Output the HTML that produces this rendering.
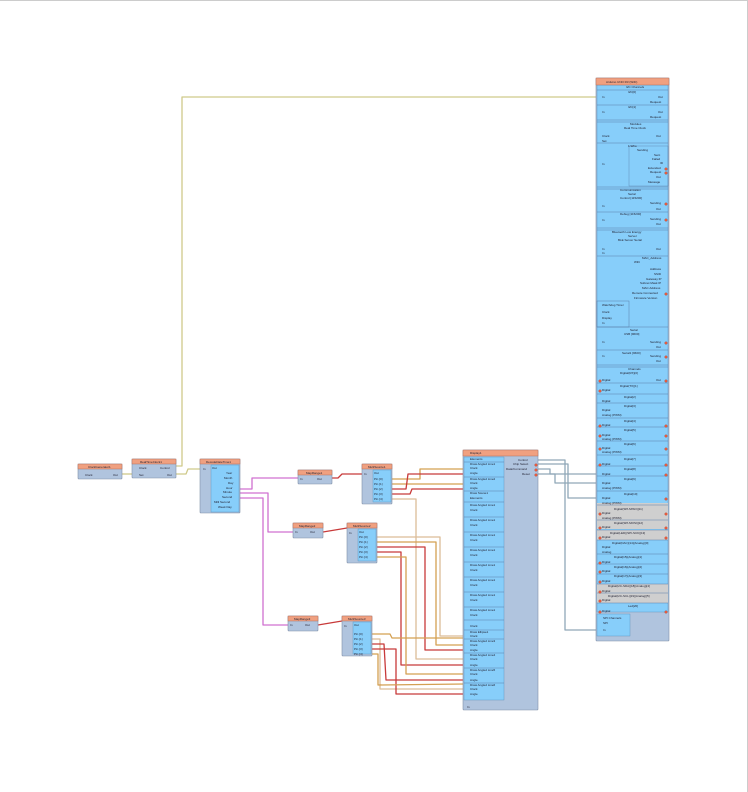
<!DOCTYPE html>
<html><head><meta charset="utf-8"><style>
html,body{margin:0;padding:0;background:#fff;width:748px;height:792px;overflow:hidden}
svg{display:block}
text{font-family:"Liberation Sans",sans-serif;font-size:3px;fill:#223}
.h{fill:#f0a080;stroke:#b07060;stroke-width:.5}
.b{fill:#b0c4de;stroke:#8090a8;stroke-width:.6}
.lb{fill:#87cefa;stroke:#5a8fb8;stroke-width:.4}
.w{fill:none;stroke-width:1.3;stroke-linejoin:round}
.y{stroke:#cfc98a}.m{stroke:#d070d0}.r{stroke:#c83a3a}.t{stroke:#d4a052}.lt{stroke:#dcbc98}.g{stroke:#90a8b8}
.d{stroke:#5a7fa8;stroke-width:.5}
.p{fill:#ddd;stroke:#666;stroke-width:.3}
.rp{fill:#f06040;stroke:#a03020;stroke-width:.3}
</style></head><body>
<svg width="748" height="792" viewBox="0 0 748 792">
<rect x="0" y="0" width="748" height="792" fill="#fff"/>
<line x1="0" y1="0.5" x2="748" y2="0.5" stroke="#ccc"/>
<line x1="747.5" y1="0" x2="747.5" y2="792" stroke="#ccc"/>

<!-- wires -->
<polyline class="w y" points="122,474 132,474"/>
<polyline class="w y" points="176,466 182,466 182,97 597,97"/>
<polyline class="w y" points="176,474 186,474 188,469 200,469"/>
<polyline class="w m" points="240,489 252,489 252,478 298,478"/>
<polyline class="w m" points="240,493 268,493 268,532 293,532"/>
<polyline class="w m" points="240,498 263,498 263,625 288,625"/>
<polyline class="w r" points="332,478 338,478 342,474 362,474"/>
<polyline class="w r" points="323,532 347,528"/>
<polyline class="w r" points="318,625 342,621"/>

<polyline class="w t" points="392,479 420,479 420,469 464,469"/>
<polyline class="w t" points="392,484 425,484 425,484 464,484"/>
<polyline class="w r" points="392,489 406,489 408,474 464,474"/>
<polyline class="w r" points="392,494 410,494 412,489 464,489"/>
<polyline class="w lt" points="392,499 416,499 416,659 464,659"/>

<polyline class="w lt" points="377,537 440,537 440,636 464,636"/>
<polyline class="w t" points="377,542 436,542 436,645 464,645"/>
<polyline class="w r" points="377,547 425,547 425,650 464,650"/>
<polyline class="w r" points="377,552 401,552 401,665 464,665"/>
<polyline class="w t" points="377,557 406,557 406,674 464,674"/>

<polyline class="w t" points="372,634 390,634 392,638 464,638"/>
<polyline class="w lt" points="372,639 380,639 380,689 464,689"/>
<polyline class="w r" points="372,644 384,644 386,680 464,680"/>
<polyline class="w r" points="372,649 396,649 396,694 464,694"/>
<polyline class="w t" points="372,654 378,654 378,685 464,684"/>

<polyline class="w g" points="538,460 565,460 565,630 597,630"/>
<polyline class="w g" points="538,464 568,464 568,498 597,498"/>
<polyline class="w g" points="538,469 550,469 550,474 597,474"/>
<polyline class="w g" points="538,474 555,474 555,483 597,483"/>

<!-- ClockGenerator1 -->
<rect class="b" x="78" y="464" width="44" height="15" rx="1"/>
<rect class="h" x="78" y="464" width="44" height="5"/>
<text x="88" y="468">ClockGenerator1</text>
<text x="85" y="476">Clock</text><text x="113" y="476">Out</text>
<!-- RealTimeClock1 -->
<rect class="b" x="132" y="459" width="44" height="19" rx="1"/>
<rect class="h" x="132" y="459" width="44" height="5"/>
<text x="140" y="463">RealTimeClock1</text>
<text x="139" y="469">Clock</text><text x="139" y="476">Set</text>
<text x="160" y="469">Control</text><text x="167" y="476">Out</text>
<!-- Decode -->
<rect class="b" x="200" y="459" width="40" height="54" rx="1"/>
<rect class="h" x="200" y="459" width="40" height="5"/>
<text x="206" y="463">DecodeDateTime1</text>
<rect class="lb" x="211" y="465" width="28" height="47"/>
<text x="203" y="470">In</text><text x="212" y="469">Out</text>
<text x="226" y="474">Year</text><text x="224" y="479">Month</text><text x="228" y="484">Day</text>
<text x="226" y="489">Hour</text><text x="223" y="493">Minute</text><text x="222" y="498">Second</text>
<text x="214" y="503">Milli Second</text><text x="218" y="508">Week Day</text>
<!-- MapRanges -->
<rect class="b" x="298" y="470" width="34" height="14" rx="1"/><rect class="h" x="298" y="470" width="34" height="5"/>
<text x="306" y="474">MapRange1</text><text x="300" y="480">In</text><text x="317" y="480">Out</text>
<rect class="b" x="293" y="523" width="30" height="15" rx="1"/><rect class="h" x="293" y="523" width="30" height="5"/>
<text x="299" y="527">MapRange2</text><text x="295" y="533">In</text><text x="310" y="533">Out</text>
<rect class="b" x="288" y="616" width="30" height="15" rx="1"/><rect class="h" x="288" y="616" width="30" height="5"/>
<text x="294" y="620">MapRange3</text><text x="290" y="626">In</text><text x="305" y="626">Out</text>
<!-- MultiSources -->
<g>
<rect class="b" x="362" y="464" width="30" height="40" rx="1"/><rect class="h" x="362" y="464" width="30" height="5"/>
<text x="368" y="468">MultiSource1</text><rect class="lb" x="373" y="470" width="18" height="32"/>
<text x="364" y="475">In</text><text x="374" y="474">Out</text>
<text x="374" y="480">Pin [0]</text><text x="374" y="485">Pin [1]</text><text x="374" y="490">Pin [2]</text><text x="374" y="495">Pin [3]</text><text x="374" y="500">Pin [4]</text>
</g>
<g>
<rect class="b" x="347" y="523" width="30" height="40" rx="1"/><rect class="h" x="347" y="523" width="30" height="5"/>
<text x="353" y="527">MultiSource2</text><rect class="lb" x="358" y="529" width="18" height="32"/>
<text x="349" y="534">In</text><text x="359" y="533">Out</text>
<text x="359" y="538">Pin [0]</text><text x="359" y="543">Pin [1]</text><text x="359" y="548">Pin [2]</text><text x="359" y="553">Pin [3]</text><text x="359" y="558">Pin [4]</text>
</g>
<g>
<rect class="b" x="342" y="616" width="30" height="40" rx="1"/><rect class="h" x="342" y="616" width="30" height="5"/>
<text x="348" y="620">MultiSource3</text><rect class="lb" x="353" y="622" width="18" height="32"/>
<text x="344" y="627">In</text><text x="354" y="626">Out</text>
<text x="354" y="635">Pin [0]</text><text x="354" y="640">Pin [1]</text><text x="354" y="645">Pin [2]</text><text x="354" y="650">Pin [3]</text><text x="354" y="655">Pin [4]</text>
</g>

<!-- Display -->
<rect class="b" x="463" y="450" width="75" height="260" rx="1"/>
<rect class="h" x="463" y="450" width="75" height="6"/>
<text x="470" y="454">Display1</text>
<rect class="lb" x="464" y="457" width="40" height="243"/>
<text x="518" y="461">Control</text><text x="513" y="465">Chip Select</text><text x="506" y="470">Data/Command</text><text x="522" y="475">Reset</text>
<text x="470" y="460">Elements</text><text x="470" y="469">Clock</text><text x="470" y="474">Angle</text>
<line class="d" x1="464" y1="462" x2="504" y2="462"/>
<text x="470" y="465">Draw Angled Line1</text>
<line class="d" x1="464" y1="477" x2="504" y2="477"/>
<text x="470" y="480">Draw Angled Line2</text><text x="470" y="484">Clock</text><text x="470" y="489">Angle</text>
<line class="d" x1="464" y1="491" x2="504" y2="491"/>
<text x="470" y="494">Draw Scene1</text><text x="470" y="499">Elements</text>
<g id="dl">
<line class="d" x1="464" y1="502" x2="504" y2="502"/><text x="470" y="506">Draw Angled Line1</text><text x="470" y="511">Clock</text>
</g>
<use href="#dl" y="15"/><use href="#dl" y="30"/><use href="#dl" y="45"/><use href="#dl" y="60"/><use href="#dl" y="75"/><use href="#dl" y="90"/><use href="#dl" y="105"/>
<line class="d" x1="464" y1="620" x2="504" y2="620"/><text x="470" y="627">Clock</text>
<line class="d" x1="464" y1="630" x2="504" y2="630"/>
<text x="470" y="633">Draw Ellipse1</text><text x="470" y="637">Clock</text>
<line class="d" x1="464" y1="639" x2="504" y2="639"/>
<text x="470" y="642">Draw Angled Line3</text><text x="470" y="646">Clock</text><text x="470" y="651">Angle</text>
<line class="d" x1="464" y1="653" x2="504" y2="653"/>
<text x="470" y="656">Draw Angled Line4</text><text x="470" y="660">Clock</text><text x="470" y="666">Angle</text>
<line class="d" x1="464" y1="668" x2="504" y2="668"/>
<text x="470" y="671">Draw Angled Line5</text><text x="470" y="675">Clock</text><text x="470" y="681">Angle</text>
<line class="d" x1="464" y1="683" x2="504" y2="683"/>
<text x="470" y="686">Draw Angled Line6</text><text x="470" y="690">Clock</text><text x="470" y="695">Angle</text>
<text x="467" y="708">In</text>

<!-- Arduino -->
<rect class="b" x="596" y="78" width="73" height="563" rx="1"/>
<rect class="lb" x="597" y="85" width="71" height="527"/>
<rect class="h" x="596" y="78" width="73" height="7"/>
<text x="606" y="83">Arduino UNO R3 (WiFi)</text>
<g fill="#cfcfcf">
<rect x="597" y="503" width="71" height="26"/><rect x="597" y="530" width="71" height="10"/>
<rect x="597" y="584" width="71" height="19"/>
</g>
<g class="d" stroke="#5a7fa8">
<line x1="597" y1="90" x2="668" y2="90"/><line x1="597" y1="105" x2="668" y2="105"/><line x1="597" y1="120" x2="668" y2="120"/>
<line x1="597" y1="122" x2="668" y2="122"/><line x1="597" y1="143" x2="668" y2="143"/><line x1="597" y1="187" x2="668" y2="187"/>
<line x1="597" y1="189" x2="668" y2="189"/><line x1="597" y1="212" x2="668" y2="212"/><line x1="597" y1="228" x2="668" y2="228"/>
<line x1="597" y1="230" x2="668" y2="230"/><line x1="597" y1="256" x2="668" y2="256"/><line x1="597" y1="327" x2="668" y2="327"/>
<line x1="597" y1="350" x2="668" y2="350"/><line x1="597" y1="365" x2="668" y2="365"/><line x1="597" y1="367" x2="668" y2="367"/>
<line x1="597" y1="383" x2="668" y2="383"/><line x1="597" y1="394" x2="668" y2="394"/><line x1="597" y1="403" x2="668" y2="403"/>
<line x1="597" y1="418" x2="668" y2="418"/><line x1="597" y1="427" x2="668" y2="427"/><line x1="597" y1="441" x2="668" y2="441"/>
<line x1="597" y1="455" x2="668" y2="455"/><line x1="597" y1="466" x2="668" y2="466"/><line x1="597" y1="476" x2="668" y2="476"/>
<line x1="597" y1="491" x2="668" y2="491"/><line x1="597" y1="505" x2="668" y2="505"/><line x1="597" y1="520" x2="668" y2="520"/>
<line x1="597" y1="530" x2="668" y2="530"/><line x1="597" y1="540" x2="668" y2="540"/><line x1="597" y1="554" x2="668" y2="554"/>
<line x1="597" y1="564" x2="668" y2="564"/><line x1="597" y1="574" x2="668" y2="574"/><line x1="597" y1="584" x2="668" y2="584"/>
<line x1="597" y1="593" x2="668" y2="593"/><line x1="597" y1="603" x2="668" y2="603"/>
</g>
<rect x="597" y="301" width="32" height="26" fill="none" stroke="#5a7fa8" stroke-width=".5"/>
<rect x="629" y="146" width="39" height="40" fill="none" stroke="#5a7fa8" stroke-width=".4"/>
<rect x="597" y="614" width="33" height="22" class="lb"/>
<text x="626" y="88">I2C Channels</text><text x="628" y="93">I2C[0]</text><text x="602" y="98">In</text><text x="658" y="98">Out</text><text x="650" y="103">Request</text>
<text x="628" y="108">I2C[1]</text><text x="602" y="113">In</text><text x="658" y="113">Out</text><text x="650" y="118">Request</text>
<text x="630" y="125">Modules</text><text x="624" y="129">Real Time Clock</text><text x="602" y="137">Clock</text><text x="602" y="142">Set</text><text x="656" y="137">Out</text>
<text x="628" y="147">1-Wire</text><text x="637" y="151">Sending</text><text x="602" y="165">In</text>
<text x="654" y="156">Sent</text><text x="652" y="160">Failed</text><text x="660" y="164">ID</text><text x="648" y="169">Extended</text><text x="650" y="173">Request</text><text x="656" y="178">Out</text><text x="648" y="183">Message</text>
<text x="620" y="191">Communication</text><text x="628" y="195">Serial</text><text x="620" y="199">Control [115200]</text>
<text x="602" y="207">In</text><text x="650" y="204">Sending</text><text x="656" y="210">Out</text>
<text x="620" y="215">Debug [115200]</text><text x="602" y="221">In</text><text x="650" y="220">Sending</text><text x="656" y="225">Out</text>
<text x="612" y="233">Bluetooth Low Energy</text><text x="628" y="237">Server</text><text x="618" y="241">BLE Server Serial</text>
<text x="602" y="250">In</text><text x="656" y="250">Out</text><text x="602" y="254">In</text><text x="642" y="259">MAC_Address</text><text x="634" y="263">WiFi</text>
<text x="650" y="270">Address</text><text x="654" y="275">SSID</text><text x="646" y="280">Gateway IP</text><text x="640" y="284">Subnet Mask IP</text><text x="642" y="289">MAC Address</text><text x="632" y="294">Remote Connected</text><text x="634" y="299">Firmware Version</text>
<text x="602" y="306">Watchdog Timer</text><text x="602" y="313">Clock</text><text x="602" y="319">Display</text><text x="602" y="324">In</text>
<text x="630" y="331">Serial</text><text x="624" y="335">USB [9600]</text><text x="602" y="343">In</text><text x="650" y="343">Sending</text><text x="656" y="348">Out</text>
<text x="622" y="354">Serial1 [9600]</text><text x="602" y="357">In</text><text x="650" y="357">Sending</text><text x="656" y="362">Out</text>
<text x="628" y="370">Channels</text><text x="620" y="374">Digital(RX)[0]</text><text x="602" y="381">Digital</text><text x="656" y="381">Out</text>
<text x="620" y="387">Digital(TX)[1]</text><text x="602" y="391">Digital</text><text x="624" y="398">Digital[2]</text><text x="602" y="402">Digital</text>
<text x="624" y="407">Digital[3]</text><text x="602" y="411">Digital</text><text x="602" y="416">Analog (PWM)</text>
<text x="624" y="422">Digital[4]</text><text x="602" y="426">Digital</text><text x="624" y="431">Digital[5]</text><text x="602" y="436">Digital</text><text x="602" y="440">Analog (PWM)</text>
<text x="624" y="445">Digital[6]</text><text x="602" y="449">Digital</text><text x="602" y="453">Analog (PWM)</text>
<text x="624" y="460">Digital[7]</text><text x="602" y="465">Digital</text><text x="624" y="470">Digital[8]</text><text x="602" y="475">Digital</text>
<text x="624" y="480">Digital[9]</text><text x="602" y="484">Digital</text><text x="602" y="489">Analog (PWM)</text>
<text x="624" y="495">Digital[10]</text><text x="602" y="499">Digital</text><text x="602" y="504">Analog (PWM)</text>
<text x="614" y="510">Digital(SPI-MISO)[11]</text><text x="602" y="514">Digital</text><text x="602" y="519">Analog (PWM)</text>
<text x="614" y="524">Digital(SPI-MOSI)[12]</text><text x="602" y="528">Digital</text>
<text x="610" y="534">Digital(LED)(SPI-SCK)[13]</text><text x="602" y="538">Digital</text>
<text x="612" y="544">Digital(DAC)[14](Analog)[0]</text><text x="602" y="548">Digital</text><text x="602" y="553">Analog</text>
<text x="614" y="558">Digital[15](Analog)[1]</text><text x="602" y="563">Digital</text>
<text x="614" y="568">Digital[16](Analog)[2]</text><text x="602" y="572">Digital</text>
<text x="614" y="577">Digital[17](Analog)[3]</text><text x="602" y="582">Digital</text>
<text x="608" y="587">Digital(I2C-SDA)[18](Analog)[4]</text><text x="602" y="592">Digital</text>
<text x="608" y="597">Digital(I2C-SCL)[19](Analog)[5]</text><text x="602" y="601">Digital</text>
<text x="628" y="607">Led[20]</text><text x="602" y="612">Digital</text>
<text x="603" y="619">SPI Channels</text><text x="603" y="624">SPI</text><text x="603" y="631">In</text>
<g class="rp">
<circle cx="666" cy="204" r="1.3"/><circle cx="666" cy="220" r="1.3"/><circle cx="666" cy="169" r="1.3"/><circle cx="666" cy="173" r="1.3"/>
<circle cx="666" cy="343" r="1.3"/><circle cx="666" cy="357" r="1.3"/><circle cx="666" cy="294" r="1.3"/>
<circle cx="600" cy="381" r="1.3"/><circle cx="666" cy="381" r="1.3"/><circle cx="600" cy="391" r="1.3"/><circle cx="600" cy="426" r="1.3"/><circle cx="666" cy="426" r="1.3"/>
<circle cx="600" cy="436" r="1.3"/><circle cx="666" cy="436" r="1.3"/><circle cx="600" cy="449" r="1.3"/><circle cx="666" cy="449" r="1.3"/>
<circle cx="600" cy="465" r="1.3"/><circle cx="666" cy="465" r="1.3"/><circle cx="666" cy="475" r="1.3"/><circle cx="666" cy="499" r="1.3"/>
<circle cx="600" cy="514" r="1.3"/><circle cx="666" cy="514" r="1.3"/><circle cx="600" cy="528" r="1.3"/><circle cx="666" cy="528" r="1.3"/>
<circle cx="600" cy="538" r="1.3"/><circle cx="666" cy="538" r="1.3"/><circle cx="600" cy="563" r="1.3"/><circle cx="600" cy="572" r="1.3"/>
<circle cx="600" cy="582" r="1.3"/><circle cx="600" cy="592" r="1.3"/><circle cx="600" cy="601" r="1.3"/><circle cx="600" cy="612" r="1.3"/><circle cx="666" cy="612" r="1.3"/>
<circle cx="536" cy="465" r="1.3"/><circle cx="536" cy="470" r="1.3"/><circle cx="536" cy="475" r="1.3"/>
</g>
</svg>
</body></html>
